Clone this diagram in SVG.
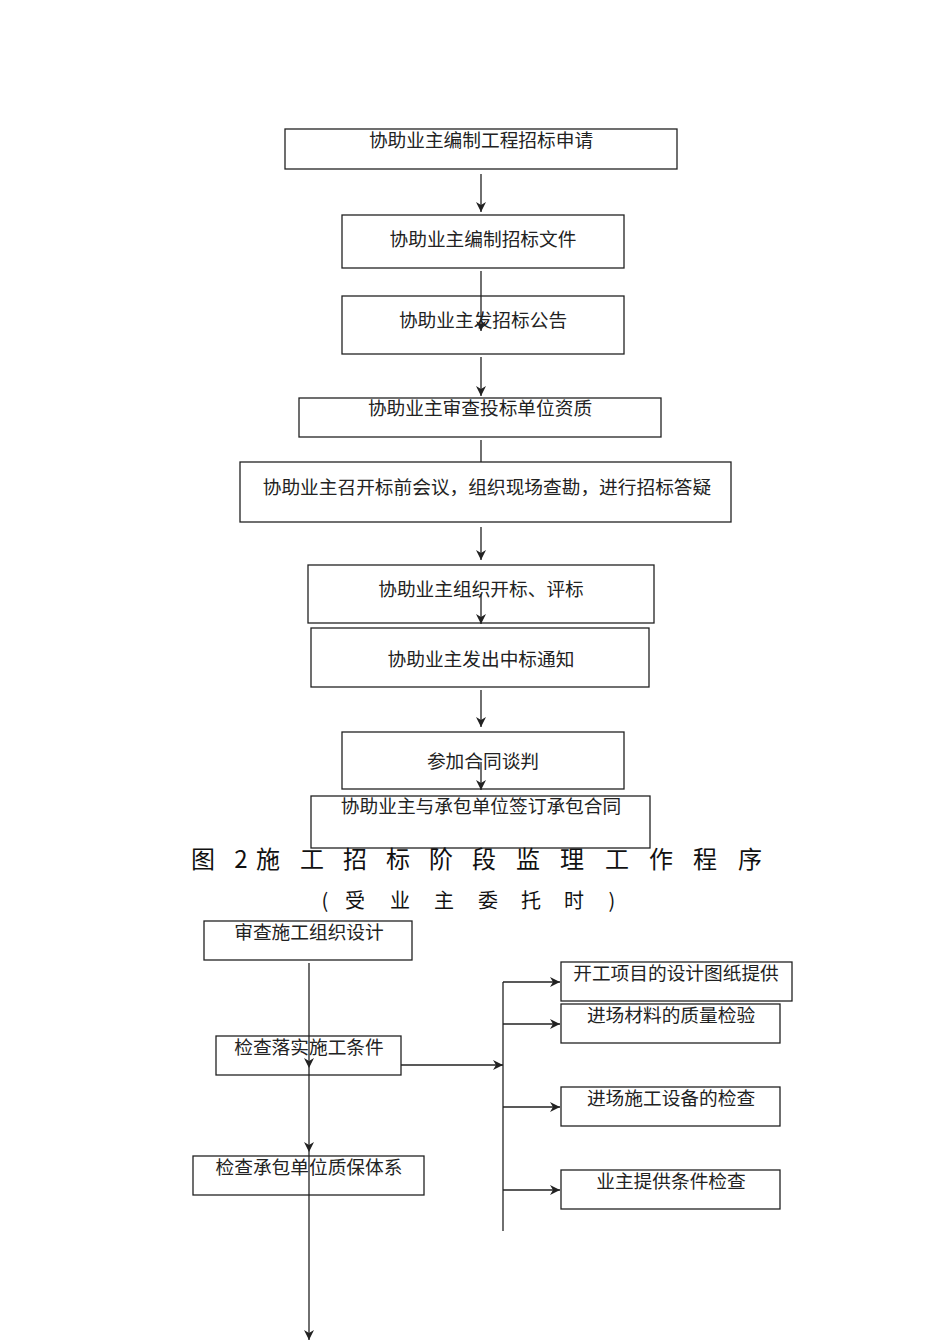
<svg xmlns="http://www.w3.org/2000/svg" width="950" height="1344" viewBox="0 0 950 1344">
<style>
.box{fill:#fff;stroke:#222;stroke-width:1.3}
.t{font-family:"Noto Sans CJK SC","Liberation Serif",serif;font-size:18.7px;fill:#222;text-anchor:middle}
.title{font-family:"Noto Sans CJK SC","Liberation Sans",sans-serif;font-size:24px;fill:#111;text-anchor:middle}
.sub{font-family:"Noto Sans CJK SC","Liberation Sans",sans-serif;font-size:20px;fill:#111;text-anchor:middle}
.c{fill:none;stroke:#222;stroke-width:1.3}
</style>
<defs>
<marker id="ah" markerUnits="userSpaceOnUse" markerWidth="10" markerHeight="10" viewBox="0 0 10 10" refX="10" refY="5" orient="auto">
<path d="M0,0 L10,5 L0,10 L3,5 Z" fill="#222"/>
</marker>
</defs>
<rect width="950" height="1344" fill="#fff"/>
<g id="n1"><rect class="box" x="285" y="129" width="392" height="40"/><text class="t" x="481" y="147">协助业主编制工程招标申请</text></g>
<g id="n2"><rect class="box" x="342" y="215" width="282" height="53"/><text class="t" x="483" y="246">协助业主编制招标文件</text></g>
<g id="n3"><rect class="box" x="342" y="296" width="282" height="58"/><text class="t" x="483" y="327">协助业主发招标公告</text></g>
<g id="n4"><rect class="box" x="299" y="398" width="362" height="39"/><text class="t" x="480" y="415">协助业主审查投标单位资质</text></g>
<g id="n5"><rect class="box" x="240" y="462" width="491" height="60"/><text class="t" x="487" y="494">协助业主召开标前会议，组织现场查勘，进行招标答疑</text></g>
<g id="n6"><rect class="box" x="308" y="565" width="346" height="58"/><text class="t" x="481" y="596">协助业主组织开标、评标</text></g>
<g id="n7"><rect class="box" x="311" y="628" width="338" height="59"/><text class="t" x="481" y="666">协助业主发出中标通知</text></g>
<g id="n8"><rect class="box" x="342" y="732" width="282" height="57"/><text class="t" x="483" y="768">参加合同谈判</text></g>
<g id="n9"><rect class="box" x="311" y="796" width="339" height="52"/><text class="t" x="481" y="813">协助业主与承包单位签订承包合同</text></g>
<g id="title"><text class="title" x="203 241 268 312 355 398 441 484 528 572 617 661 705 750" y="868">图2施工招标阶段监理工作程序</text>
<text class="sub" x="325 355 400 444 488 531 574 612" y="908">(受业主委托时)</text></g>
<g id="a"><rect class="box" x="204" y="921" width="208" height="39"/><text class="t" x="309" y="939">审查施工组织设计</text></g>
<g id="b"><rect class="box" x="216" y="1036" width="185" height="39"/><text class="t" x="309" y="1054">检查落实施工条件</text></g>
<g id="c"><rect class="box" x="193" y="1156" width="231" height="39"/><text class="t" x="309" y="1174">检查承包单位质保体系</text></g>
<g id="d"><rect class="box" x="561" y="962" width="231" height="39"/><text class="t" x="676" y="980">开工项目的设计图纸提供</text></g>
<g id="e"><rect class="box" x="561" y="1004" width="219" height="39"/><text class="t" x="671" y="1022">进场材料的质量检验</text></g>
<g id="f"><rect class="box" x="561" y="1087" width="219" height="39"/><text class="t" x="671" y="1105">进场施工设备的检查</text></g>
<g id="g"><rect class="box" x="561" y="1170" width="219" height="39"/><text class="t" x="671" y="1188">业主提供条件检查</text></g>
<g id="connectors">
<line class="c" x1="481" y1="174" x2="481" y2="212" marker-end="url(#ah)"/>
<line class="c" x1="481" y1="271" x2="481" y2="331" marker-end="url(#ah)"/>
<line class="c" x1="481" y1="357" x2="481" y2="396" marker-end="url(#ah)"/>
<line class="c" x1="481" y1="440" x2="481" y2="462"/>
<line class="c" x1="481" y1="527" x2="481" y2="560" marker-end="url(#ah)"/>
<line class="c" x1="481" y1="594" x2="481" y2="624" marker-end="url(#ah)"/>
<line class="c" x1="481" y1="690" x2="481" y2="727" marker-end="url(#ah)"/>
<line class="c" x1="481" y1="762" x2="481" y2="790" marker-end="url(#ah)"/>
<line class="c" x1="309" y1="963" x2="309" y2="1068" marker-end="url(#ah)"/>
<line class="c" x1="309" y1="1068" x2="309" y2="1152" marker-end="url(#ah)"/>
<line class="c" x1="309" y1="1152" x2="309" y2="1340" marker-end="url(#ah)"/>
<line class="c" x1="401" y1="1065" x2="503" y2="1065" marker-end="url(#ah)"/>
<line class="c" x1="503" y1="982" x2="503" y2="1231"/>
<line class="c" x1="503" y1="982" x2="560" y2="982" marker-end="url(#ah)"/>
<line class="c" x1="503" y1="1024" x2="560" y2="1024" marker-end="url(#ah)"/>
<line class="c" x1="503" y1="1107" x2="560" y2="1107" marker-end="url(#ah)"/>
<line class="c" x1="503" y1="1190" x2="560" y2="1190" marker-end="url(#ah)"/>
</g>
</svg>
